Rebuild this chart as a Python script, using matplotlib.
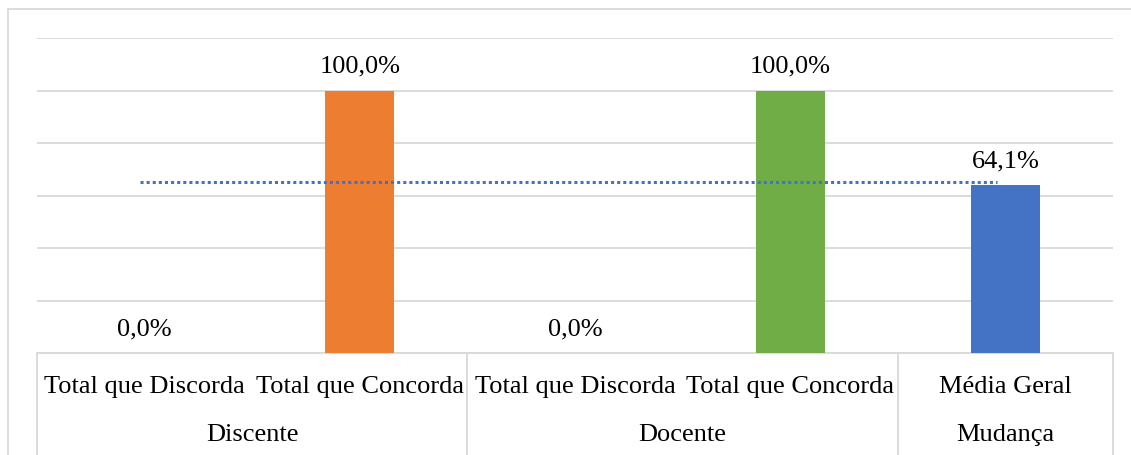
import matplotlib
matplotlib.use("Agg")
import matplotlib.pyplot as plt
from matplotlib.patches import Rectangle
from matplotlib.lines import Line2D

# ---- data ----
level1 = ["Total que Discorda", "Total que Concorda",
          "Total que Discorda", "Total que Concorda", "Média Geral"]
groups = ["Discente", "Docente", "Mudança"]
group_spans = [(0, 1), (2, 3), (4, 4)]
values = [0.0, 100.0, 0.0, 100.0, 64.1]
bar_colors = ["#ED7D31", "#ED7D31", "#70AD47", "#70AD47", "#4472C4"]
avg_line = 65.3  # dotted reference line level (%)

plt.rcParams['font.family'] = ['Liberation Serif', 'DejaVu Serif']
FS = 19

W, H = 1131, 455
fig = plt.figure(figsize=(W / 100, H / 100), dpi=100)
ax = fig.add_axes([37 / W, 102 / H, (1113 - 37) / W, (353 - 38) / H])

x = list(range(len(values)))
ax.bar(x, values, width=0.32, color=bar_colors, zorder=3)

for xi, v in zip(x, values):
    ax.text(xi, v + 9.0, f"{v:.1f}%".replace(".", ","), ha="center", va="center",
            fontsize=FS, color="#000000", zorder=4)

ax.plot([-0.02, 3.96], [avg_line, avg_line], linestyle=(0, (1, 1)),
        color="#4472C4", linewidth=2.2, zorder=4)

ax.set_xlim(-0.5, 4.5)
ax.set_ylim(0, 120)
ax.set_yticks([0, 20, 40, 60, 80, 100, 120])
ax.yaxis.grid(True, color="#D9D9D9", linewidth=1.3, zorder=0)
ax.tick_params(left=False, bottom=False, labelbottom=False, labelleft=False)
for s in ["top", "right", "left"]:
    ax.spines[s].set_visible(False)
ax.spines["bottom"].set_color("#D9D9D9")
ax.spines["bottom"].set_linewidth(1.3)

trans = ax.get_xaxis_transform()
axh = 353 - 38
row1_y = -34 / axh
row2_y = -82 / axh
bottom_y = -104 / axh

for xi, lab in enumerate(level1):
    ax.text(xi, row1_y, lab, transform=trans, ha="center", va="center",
            fontsize=FS, color="#000000", clip_on=False)

for g, (a, b) in zip(groups, group_spans):
    ax.text((a + b) / 2, row2_y, g, transform=trans, ha="center", va="center",
            fontsize=FS, color="#000000", clip_on=False)

for sx in [-0.5, 1.5, 3.5, 4.5]:
    ax.add_line(Line2D([sx, sx], [0, bottom_y], transform=trans,
                       color="#D9D9D9", linewidth=1.3, clip_on=False))

fig.add_artist(Rectangle((8 / W, -0.1), 1.2, (H - 9) / H + 0.1,
                         transform=fig.transFigure, fill=False,
                         edgecolor="#D9D9D9", linewidth=1.3))

fig.savefig("out.png", dpi=100, facecolor="white")
